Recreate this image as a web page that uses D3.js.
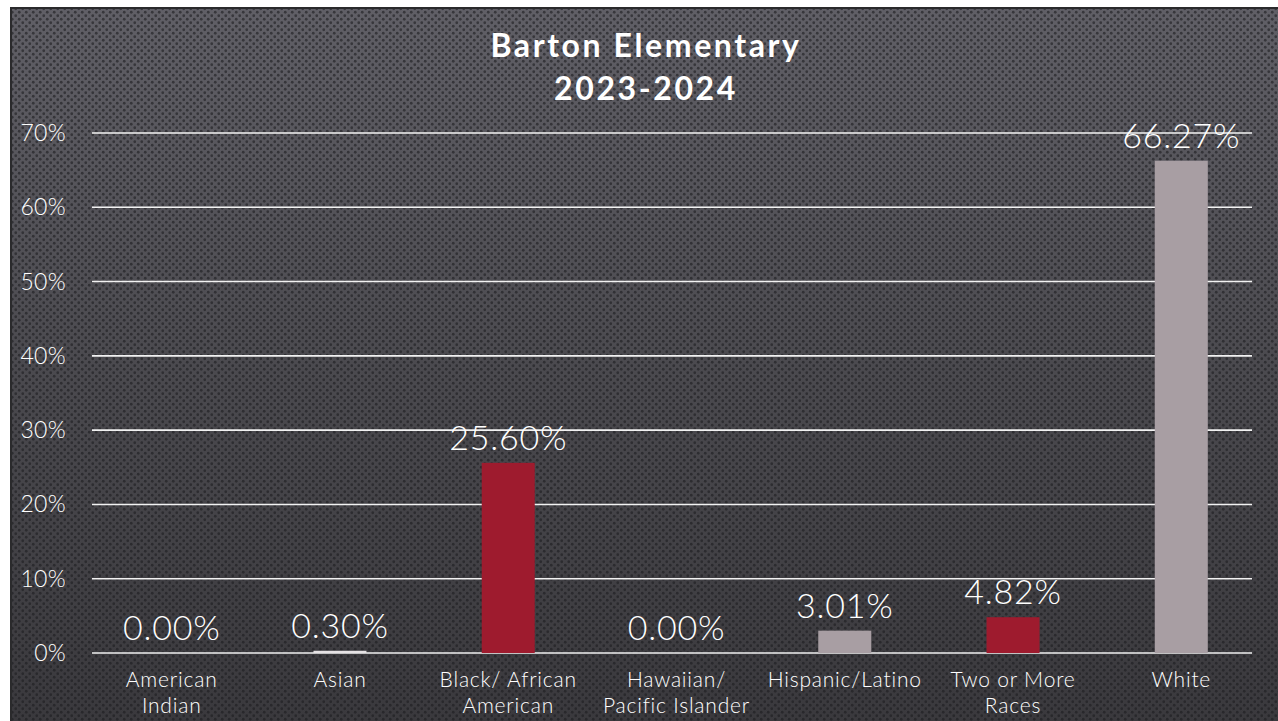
<!DOCTYPE html>
<html><head><meta charset="utf-8">
<script src="https://cdn.jsdelivr.net/npm/d3@7"></script>
<style>html,body{margin:0;padding:0;background:#fff;}svg{display:block;}</style>
</head><body>
<svg id="chart" width="1278" height="721"></svg>
<script>
const categories = [["American","Indian"],["Asian"],["Black/ African","American"],["Hawaiian/","Pacific Islander"],["Hispanic/Latino"],["Two or More","Races"],["White"]];
const values = [0.00, 0.30, 25.60, 0.00, 3.01, 4.82, 66.27];
const labels = ["0.00%","0.30%","25.60%","0.00%","3.01%","4.82%","66.27%"];
const barColors = ["#a89ea3","#e6e2e4","#9e1b2e","#a89ea3","#a89ea3","#9e1b2e","#a89ea3"];
const yTicks = [0,10,20,30,40,50,60,70];
const titleLines = ["Barton Elementary","2023-2024"];

const svg = d3.select("#chart");
const W = 1278, H = 721;
const defs = svg.append("defs");
const grad = defs.append("linearGradient").attr("id","bg").attr("x1",0).attr("y1",0).attr("x2",0).attr("y2",1);
grad.append("stop").attr("offset",0).attr("stop-color","#605f66");
grad.append("stop").attr("offset",0.5).attr("stop-color","#4b4a4f");
grad.append("stop").attr("offset",1).attr("stop-color","#3a393d");
const pat = defs.append("pattern").attr("id","dots").attr("width",7).attr("height",7).attr("patternUnits","userSpaceOnUse");
pat.append("circle").attr("cx",1.75).attr("cy",1.75).attr("r",1.4).attr("fill","#1c1c1f").attr("opacity",0.6);
pat.append("circle").attr("cx",5.25).attr("cy",5.25).attr("r",1.4).attr("fill","#1c1c1f").attr("opacity",0.6);

svg.append("rect").attr("x",0).attr("y",0).attr("width",W).attr("height",H).attr("fill","#fff");
svg.append("rect").attr("x",10).attr("y",7).attr("width",W-10).attr("height",H-7).attr("fill","#2a2a2c");
svg.append("rect").attr("x",12).attr("y",9).attr("width",W-12).attr("height",H-9).attr("fill","url(#bg)");
svg.append("rect").attr("x",12).attr("y",9).attr("width",W-12).attr("height",H-9).attr("fill","url(#dots)");

const x = d3.scaleBand().domain(d3.range(categories.length)).range([88,1265]).paddingInner(0.685).paddingOuter(0.34);
const y = d3.scaleLinear().domain([0,70]).range([653,133]);

const font = "'Century Gothic', 'Lato', 'Open Sans', sans-serif";

// gridlines
svg.append("g").selectAll("line").data(yTicks).join("line")
  .attr("x1",92).attr("x2",1252).attr("y1",d=>y(d)).attr("y2",d=>y(d))
  .attr("stroke","#f2f2f2").attr("stroke-width",1.6);

// y labels
svg.append("g").selectAll("text").data(yTicks).join("text")
  .attr("x",66).attr("y",d=>y(d)+8).attr("text-anchor","end")
  .attr("fill","#fff").attr("font-family",font).attr("font-weight",300).attr("font-size",23)
  .attr("letter-spacing",0.3)
  .text(d=>d+"%");

// bars
const bw = x.bandwidth();
svg.append("g").selectAll("rect").data(values).join("rect")
  .attr("x",(d,i)=>x(i)).attr("width",bw)
  .attr("y",d=>y(d)).attr("height",d=>Math.max(0,y(0)-y(d)))
  .attr("fill",(d,i)=>barColors[i]);

// value labels
svg.append("g").selectAll("text").data(values).join("text")
  .attr("x",(d,i)=>x(i)+bw/2).attr("y",d=>y(d)-13).attr("text-anchor","middle")
  .attr("fill","#fff").attr("font-family",font).attr("font-weight",300).attr("font-size",34)
  .attr("letter-spacing",0.8)
  .text((d,i)=>labels[i]);

// category labels
const cg = svg.append("g").selectAll("text").data(categories).join("text")
  .attr("text-anchor","middle").attr("fill","#fff").attr("font-family",font).attr("font-weight",300).attr("font-size",21)
  .attr("letter-spacing",0.8);
cg.selectAll("tspan").data((d,i)=>d.map(s=>({s,i}))).join("tspan")
  .attr("x",d=>x(d.i)+bw/2).attr("y",(d,j)=>687+j*26).text(d=>d.s);

// title
svg.append("g").selectAll("text").data(titleLines).join("text")
  .attr("x",646).attr("y",(d,i)=>57+i*43).attr("text-anchor","middle")
  .attr("fill","#fff").attr("font-family",font).attr("font-weight",700).attr("font-size",32)
  .attr("letter-spacing",2.6)
  .text(d=>d);
</script>
</body></html>
